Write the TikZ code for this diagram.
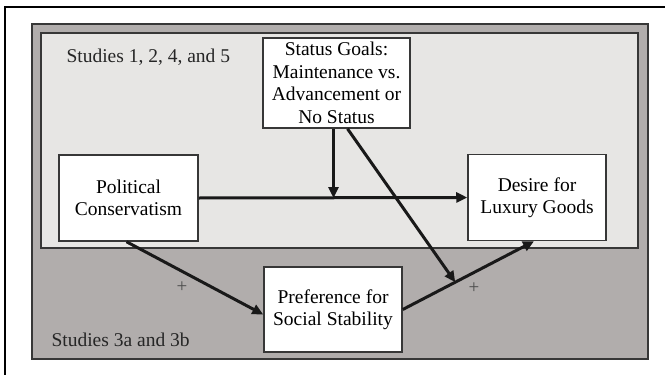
\documentclass[tikz,border=0pt]{standalone}
\usepackage{fontspec}
\setmainfont{Liberation Serif}
\usetikzlibrary{arrows.meta,calc}
\definecolor{outergrey}{RGB}{177,173,172}
\definecolor{innergrey}{RGB}{231,230,228}
\definecolor{edgegrey}{RGB}{55,55,55}
\tikzset{
  varbox/.style={draw=edgegrey,line width=1.5pt,fill=white,minimum width=138pt,minimum height=86pt,
    align=center,inner sep=0pt,font=\fontsize{19.5}{22.5}\selectfont},
  path/.style={line width=3pt,draw=black!90,-{Triangle[length=11pt,width=10pt]}},
  sign/.style={font=\fontsize{19}{20}\selectfont,text=black!70},
  study/.style={anchor=west,font=\fontsize{19.5}{22}\selectfont,text=black!85}
}
\begin{document}
\begin{tikzpicture}[x=1pt,y=-1pt]
        \clip (0,0) rectangle (665,375);
        \fill[white] (0,0) rectangle (665,375);
        \draw[line width=2pt] (5,7) rectangle (680,390);
        \draw[draw=edgegrey,line width=2pt,fill=outergrey] (32,24) rectangle (648,359);
        \draw[draw=edgegrey,line width=2pt,fill=innergrey] (41,33) rectangle (638,248);
        \node[study] (studyA) at (63,57) {Studies 1, 2, 4, and 5};
        \node[study] (studyB) at (48,340) {Studies 3a and 3b};
        \node[varbox,minimum width=147pt,minimum height=90pt] (status) at (336.5,83) {Status Goals:\\Maintenance vs.\\Advancement or\\No Status};
        \node[varbox,minimum width=139pt] (polit) at (128.5,198) {Political\\Conservatism};
        \node[varbox] (desire) at (537,197.5) {Desire for\\Luxury Goods};
        \node[varbox,minimum height=85pt] (pref) at (333,309.5) {Preference for\\Social Stability};
        \coordinate (join) at ([xshift=-3pt]status.south |- polit.east);
        \coordinate (hit) at ($(pref.east)!0.4!([xshift=-3pt]desire.south)$);
        \draw[path] (polit.east) -- (desire.west);
        \draw[path] ([xshift=-3pt]status.south) -- (join);
        \draw[path] ([xshift=-2pt]polit.south) -- ([yshift=-5pt]pref.west);
        \draw[path] (pref.east) -- ([xshift=-3pt]desire.south);
        \draw[path] ([xshift=11pt]status.south) -- (hit);
        \node[sign] (plusA) at (182,287) {+};
        \node[sign] (plusB) at (474,288) {+};
        \end{tikzpicture}
\end{document}
